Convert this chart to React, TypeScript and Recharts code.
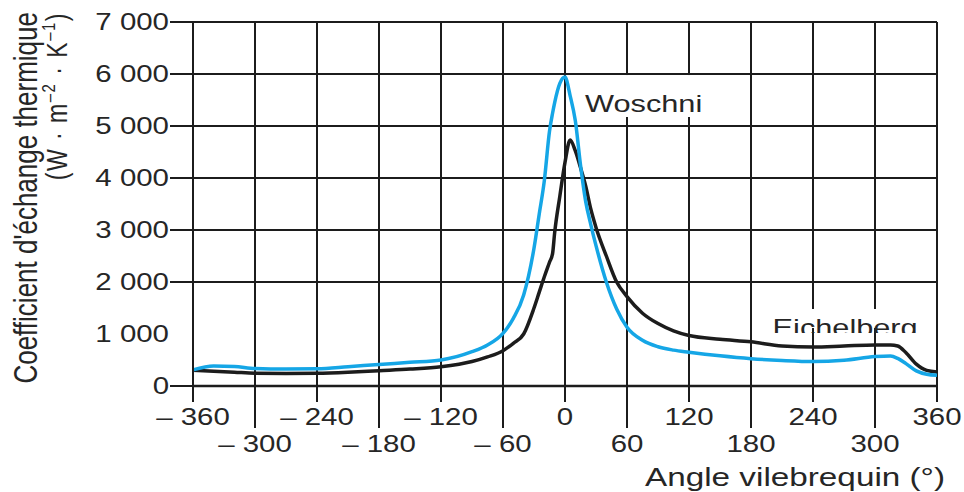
import React from "react";
import {
  CartesianGrid,
  Line,
  LineChart,
  ReferenceArea,
  ReferenceLine,
  XAxis,
  YAxis,
} from "recharts";

// crank angle (°) and heat transfer coefficient (W·m-2·K-1)
const angles = [
  -360, -340, -320, -300, -270, -240, -210, -180, -150, -120, -90, -75, -60, -50, -40, -30, -25, -20, -15, -12,
  -10, -5, 0, 5, 10, 15, 20, 25, 30, 40, 50, 60, 75, 90, 105, 120, 150, 180, 210, 240, 270, 300, 315, 322, 330,
  340, 350, 360,
];
const woschni = [
  310, 385, 375, 335, 325, 330, 370, 415, 455, 500, 660, 790, 1013, 1300, 1750, 2650, 3300, 3950, 4900, 5250,
  5450, 5820, 5940, 5580, 5100, 4250, 3550, 3100, 2700, 2000, 1480, 1130, 880, 755, 690, 650, 580, 525, 490, 470,
  495, 565, 577, 530, 430, 290, 225, 205,
];
const eichelberg = [
  305, 285, 265, 245, 240, 245, 265, 295, 325, 370, 470, 560, 680, 820, 1000, 1500, 1800, 2100, 2380, 2550, 2950,
  3650, 4300, 4730, 4520, 4200, 3850, 3400, 3050, 2500, 2000, 1720, 1400, 1200, 1060, 970, 900, 850, 770, 750, 770,
  790, 790, 770, 640, 420, 300, 270,
];

const xTicks = [-360, -300, -240, -180, -120, -60, 0, 60, 120, 180, 240, 300, 360];
const xTickLabels = ["– 360", "– 300", "– 240", "– 180", "– 120", "– 60", "0", "60", "120", "180", "240", "300", "360"];
const yTicks = [0, 1000, 2000, 3000, 4000, 5000, 6000, 7000];
const yTickLabels = ["0", "1 000", "2 000", "3 000", "4 000", "5 000", "6 000", "7 000"];
const gridY = [2000, 3000, 4000, 5000, 6000, 7000];

const data = angles.map((a, i) => ({ angle: a, woschni: woschni[i], eichelberg: eichelberg[i] }));

const FONT = "'Liberation Sans', Arial, Helvetica, sans-serif";
const INK = "#1c1c1c";
const TEXT = "#262626";
const BLUE = "#15a6e6";
const SX = 1.28; // the scan is stretched horizontally

function XTick(props: any) {
  const { x, y, payload } = props;
  const i = xTicks.indexOf(payload.value);
  const long = i % 2 === 1;
  return (
    <g>
      <line x1={x} x2={x} y1={y} y2={y + (long ? 42 : 16)} stroke={INK} strokeWidth={2} />
      <text
        transform={`translate(${x},${y + (long ? 66 : 39)}) scale(${SX},1)`}
        textAnchor="middle"
        fontSize={23}
        fontFamily={FONT}
        fill={TEXT}
      >
        {xTickLabels[i]}
      </text>
    </g>
  );
}

function YTick(props: any) {
  const { x, y, payload } = props;
  const i = yTicks.indexOf(payload.value);
  return (
    <g>
      {payload.value !== 1000 && <line x1={x - 23} x2={x} y1={y} y2={y} stroke={INK} strokeWidth={2} />}
      <text
        transform={`translate(${x - 24},${y + 8}) scale(${SX},1)`}
        textAnchor="end"
        fontSize={23}
        fontFamily={FONT}
        fill={TEXT}
      >
        {yTickLabels[i]}
      </text>
    </g>
  );
}

function YTitle(props: any) {
  const vb = props.viewBox || { x: 0, y: 22 };
  const top = vb.y - 10;
  return (
    <g fontFamily={FONT} fill={TEXT}>
      <text transform={`translate(${vb.x + 37},${top}) scale(${SX},1) rotate(-90)`} textAnchor="end" fontSize={26}>
        Coefficient d'échange thermique
      </text>
      <text
        transform={`translate(${vb.x + 67},${top}) scale(${SX},1) rotate(-90)`}
        textAnchor="end"
        fontSize={23}
        letterSpacing={1.5}
      >
        (W · m
        <tspan fontSize={15} dy={-9}>
          –2
        </tspan>
        <tspan dy={9}> · K</tspan>
        <tspan fontSize={15} dy={-9}>
          –1
        </tspan>
        <tspan dy={9}>)</tspan>
      </text>
    </g>
  );
}

function XTitle(props: any) {
  const vb = props.viewBox || { x: 193, y: 386, width: 744 };
  return (
    <text
      transform={`translate(${vb.x + vb.width + 8},${vb.y + 100}) scale(${SX},1)`}
      textAnchor="end"
      fontSize={26}
      fontFamily={FONT}
      fill={TEXT}
    >
      Angle vilebrequin (°)
    </text>
  );
}

function WoschniTag(props: any) {
  const { x, y, width, height } = props;
  return (
    <g>
      <rect x={x} y={y} width={width} height={height} fill="#fff" />
      <text transform={`translate(${x + 3},${y + 37}) scale(${SX},1)`} fontSize={24} fontFamily={FONT} fill={TEXT}>
        Woschni
      </text>
    </g>
  );
}

function EichelbergTag(props: any) {
  const { x, y, width, height } = props;
  return (
    <g>
      <defs>
        <clipPath id="eich-clip">
          <rect x={x - 5} y={y - 10} width={width + 10} height={34} />
        </clipPath>
      </defs>
      <rect x={x} y={y} width={width} height={height} fill="#fff" />
      <g clipPath="url(#eich-clip)">
        <text transform={`translate(${x + 3},${y + 27}) scale(${SX},1)`} fontSize={24} fontFamily={FONT} fill={TEXT}>
          Eichelberg
        </text>
      </g>
    </g>
  );
}

export default function App() {
  return (
    <div style={{ position: "absolute", left: 0, top: 0, width: 964, height: 492, background: "#fff" }}>
      <LineChart width={964} height={492} data={data} margin={{ top: 22, right: 27, left: 0, bottom: 0 }}>
        <CartesianGrid horizontal={false} stroke={INK} strokeWidth={2} />
        {gridY.map((v) => (
          <ReferenceLine key={v} y={v} stroke={INK} strokeWidth={2} />
        ))}
        <XAxis
          dataKey="angle"
          type="number"
          domain={[-360, 360]}
          ticks={xTicks}
          interval={0}
          tick={(p: any) => <XTick {...p} />}
          tickSize={0}
          tickMargin={0}
          tickLine={false}
          axisLine={{ stroke: INK, strokeWidth: 2.5 }}
          height={106}
          label={{ content: (p: any) => <XTitle {...p} /> }}
        />
        <YAxis
          type="number"
          domain={[0, 7000]}
          ticks={yTicks}
          interval={0}
          tick={(p: any) => <YTick {...p} />}
          tickSize={0}
          tickMargin={0}
          tickLine={false}
          axisLine={{ stroke: INK, strokeWidth: 2 }}
          width={193}
          label={{ content: (p: any) => <YTitle {...p} /> }}
        />
        <ReferenceArea x1={16.5} x2={142} y1={5173} y2={5980} shape={(p: any) => <WoschniTag {...p} />} />
        <ReferenceArea x1={198} x2={348} y1={1115} y2={1481} shape={(p: any) => <EichelbergTag {...p} />} />
        <Line
          dataKey="eichelberg"
          type="monotone"
          stroke={INK}
          strokeWidth={3.5}
          dot={false}
          isAnimationActive={false}
        />
        <Line dataKey="woschni" type="monotone" stroke={BLUE} strokeWidth={3.5} dot={false} isAnimationActive={false} />
      </LineChart>
    </div>
  );
}
